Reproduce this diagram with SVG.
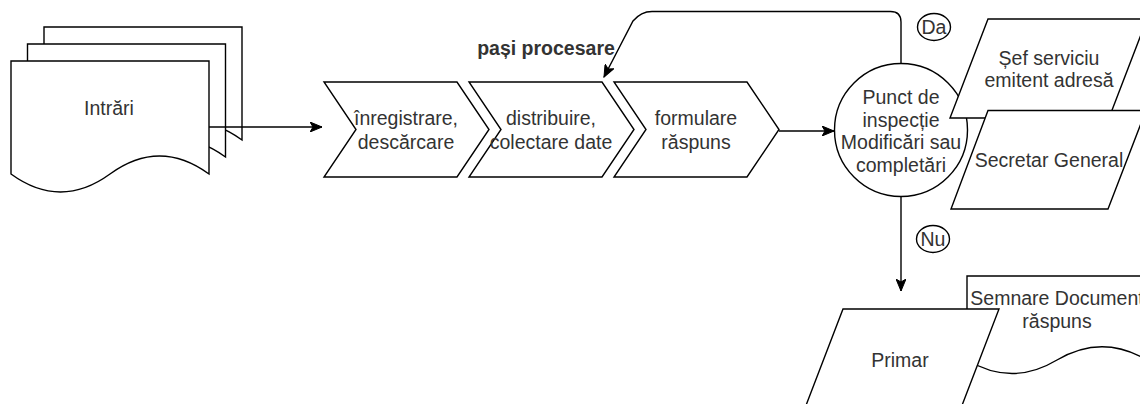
<svg xmlns="http://www.w3.org/2000/svg" xmlns:xlink="http://www.w3.org/1999/xlink" width="1140" height="404" viewBox="0 0 1140 404">
<style>
.shape{fill:#fff;stroke:#000;stroke-width:1.4}
.edge{fill:none;stroke:#000;stroke-width:1.4}
.t{font-family:"Liberation Sans",Arial,sans-serif;font-size:19.5px;fill:#333;text-anchor:middle}
.b{font-weight:bold}
</style>
<defs>
<marker id="arr" markerUnits="userSpaceOnUse" markerWidth="13" markerHeight="10" refX="12" refY="5" orient="auto" viewBox="0 0 13 10">
<path d="M0,0 L12,5 L0,10 L3,5 Z" fill="#000" stroke="#000" stroke-width="1"/>
</marker>
<path id="doc" d="M11,61 H209 V174 Q159.5,138 110,174 Q60.5,210 11,174 Z"/>
</defs>
<rect width="1140" height="404" fill="#fff"/>
<g id="intrari">
<use xlink:href="#doc" class="shape" transform="translate(33,-34)"/>
<use xlink:href="#doc" class="shape" transform="translate(16.5,-17)"/>
<use xlink:href="#doc" class="shape"/>
<text class="t" x="109" y="115">Intrări</text>
</g>
<g id="pasi-label">
<text class="t b" x="546" y="55">pași procesare</text>
</g>
<g id="step1">
<polygon class="shape" points="324,82 457,82 489,129.5 457,177 324,177 356,129.5"/>
<text class="t" x="406" y="125">înregistrare,</text>
<text class="t" x="406" y="148.5">descărcare</text>
</g>
<g id="step2">
<polygon class="shape" points="469,82 602,82 634,129.5 602,177 469,177 501,129.5"/>
<text class="t" x="551" y="125">distribuire,</text>
<text class="t" x="551" y="148.5">colectare date</text>
</g>
<g id="step3">
<polygon class="shape" points="614,82 747,82 779,129.5 747,177 614,177 646,129.5"/>
<text class="t" x="696" y="125">formulare</text>
<text class="t" x="696" y="148.5">răspuns</text>
</g>
<g id="inspectie">
<circle class="shape" cx="901" cy="130" r="66.5"/>
<text class="t" x="901" y="104">Punct de</text>
<text class="t" x="901" y="126.5">inspecție</text>
<text class="t" x="901" y="149">Modificări sau</text>
<text class="t" x="901" y="171.5">completări</text>
</g>
<g id="sef">
<polygon class="shape" points="988,19 1147,19 1109,118 950,118"/>
<text class="t" x="1049" y="65">Șef serviciu</text>
<text class="t" x="1049" y="87">emitent adresă</text>
</g>
<g id="secretar">
<polygon class="shape" points="988,110.5 1146,110.5 1108,209 951,209"/>
<text class="t" x="1049" y="167">Secretar General</text>
</g>
<g id="semnare">
<path class="shape" d="M967,276 H1147 V360 Q1102,333.4 1057,360 Q1012,387 967,360 Z"/>
<text class="t" x="1057" y="305">Semnare Document</text>
<text class="t" x="1057" y="328">răspuns</text>
</g>
<g id="primar">
<polygon class="shape" points="843,309 999,309 961,408 805,408"/>
<text class="t" x="900" y="367">Primar</text>
</g>
<g id="da">
<ellipse class="shape" cx="934" cy="27" rx="16.5" ry="13.5"/>
<text class="t" x="934" y="34">Da</text>
</g>
<g id="nu">
<ellipse class="shape" cx="933" cy="239" rx="16.5" ry="13.5"/>
<text class="t" x="933" y="246">Nu</text>
</g>
<g id="connectors">
<path class="edge" d="M209,127 H322" marker-end="url(#arr)"/>
<path class="edge" d="M779,131 H834" marker-end="url(#arr)"/>
<path class="edge" d="M901,63.5 V22 Q901,11.5 890.5,11.5 H652 Q641,11.5 633,21 L604,77" marker-end="url(#arr)"/>
<path class="edge" d="M901,196.5 V291" marker-end="url(#arr)"/>
</g>
</svg>
